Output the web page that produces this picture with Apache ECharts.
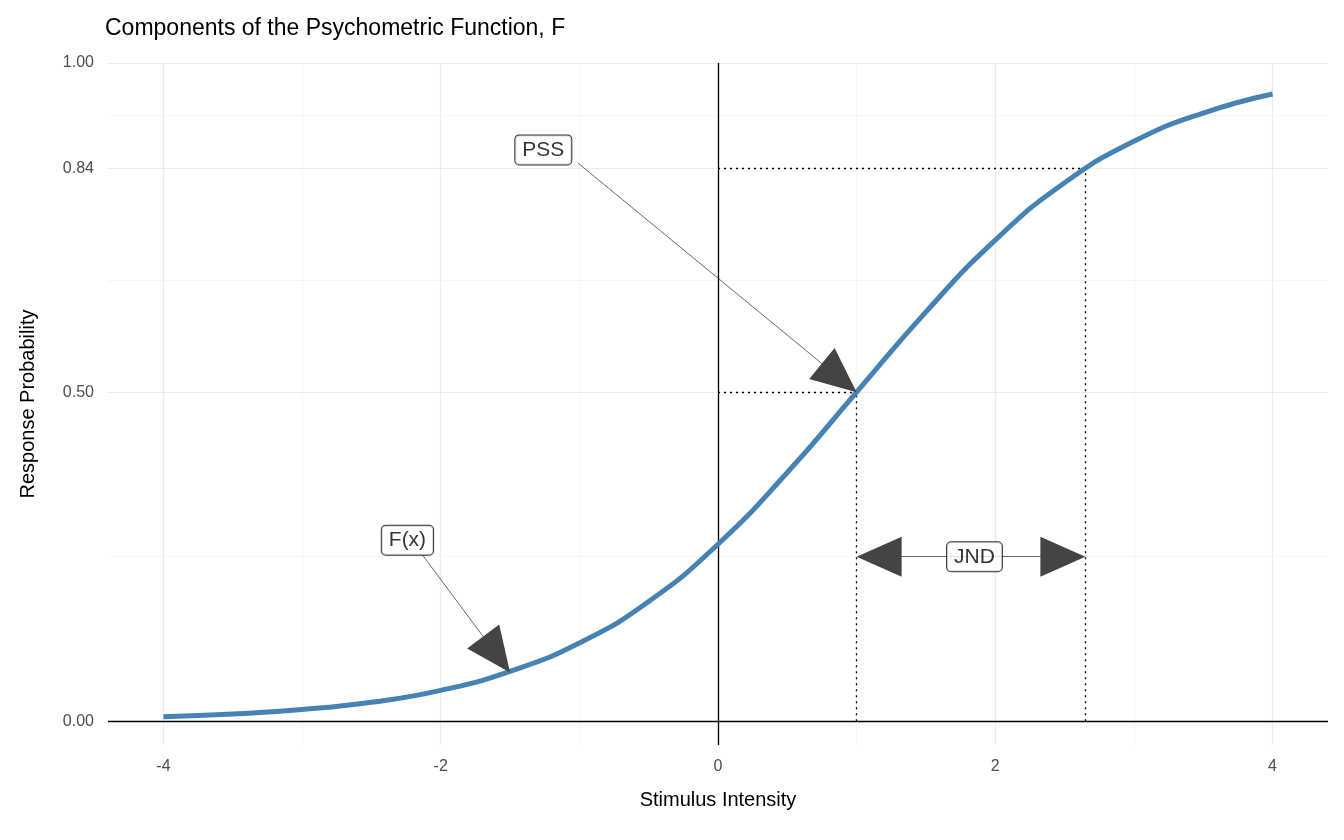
<!DOCTYPE html>
<html><head><meta charset="utf-8">
<script src="https://cdn.jsdelivr.net/npm/echarts@6/dist/echarts.min.js"></script>
<style>html,body{margin:0;padding:0;background:#fff}#c{width:1344px;height:840px}</style>
</head><body><div id="c"></div>
<script>
const xVals = [-4,-3.5,-3,-2.5,-2,-1.5,-1,-0.5,0,0.5,1,1.5,2,2.5,3,3.5,4];
const yVals = [0.007,0.011,0.018,0.029,0.047,0.076,0.119,0.182,0.269,0.378,0.5,0.622,0.731,0.818,0.881,0.924,0.953];
const xTicks = [-4,-2,0,2,4];
const yTicks = [0,0.5,0.84,1];
const xMinor = [-3,-1,1,3];
const yMinor = [0.25,0.67,0.92];
const pss = 1, jndUpper = 2.65;
const labels = [{name:'PSS', x:-1.26, y:0.868},{name:'F(x)', x:-2.24, y:0.275},{name:'JND', x:1.85, y:0.25}];

const chart = echarts.init(document.getElementById('c'));
const txt = '#4d4d4d';
const gridLines = [];
xTicks.forEach(v=>gridLines.push({xAxis:v, lineStyle:{color:'#ebebeb',width:1.2,type:'solid'}}));
xMinor.forEach(v=>gridLines.push({xAxis:v, lineStyle:{color:'#f2f2f2',width:0.8,type:'solid'}}));
yTicks.forEach(v=>gridLines.push({yAxis:v, lineStyle:{color:'#ebebeb',width:1.2,type:'solid'}}));
yMinor.forEach(v=>gridLines.push({yAxis:v, lineStyle:{color:'#f2f2f2',width:0.8,type:'solid'}}));
gridLines.push({yAxis:0, lineStyle:{color:'#000',width:1.3,type:'solid'}});
gridLines.push({xAxis:0, lineStyle:{color:'#000',width:1.3,type:'solid'}});
const dot = {color:'#000',width:1.3,type:[2,4]};
const dotted = [
  [{coord:[0,0.5]},{coord:[pss,0.5]}],
  [{coord:[pss,0]},{coord:[pss,0.5]}],
  [{coord:[0,0.84]},{coord:[jndUpper,0.84]}],
  [{coord:[jndUpper,0]},{coord:[jndUpper,0.84]}]
].map(p=>{p[0].lineStyle=dot;return p;});

const baseOption = {
  animation:false,
  title:{text:'Components of the Psychometric Function, F',left:100,top:12,textStyle:{fontSize:23,fontWeight:'normal',color:'#000',fontFamily:'Liberation Sans'}},
  grid:{left:108,right:16,top:63,bottom:95},
  xAxis:{type:'value',min:-4.4,max:4.4,name:'Stimulus Intensity',nameLocation:'middle',nameGap:45,
    nameTextStyle:{fontSize:20,color:'#000',fontFamily:'Liberation Sans'},
    axisLine:{show:false},axisTick:{show:false},splitLine:{show:false},
    axisLabel:{customValues:xTicks,color:txt,fontSize:16,margin:14,fontFamily:'Liberation Sans'}},
  yAxis:{type:'value',min:-0.036,max:1,name:'Response Probability',nameLocation:'middle',nameGap:70,
    nameTextStyle:{fontSize:20,color:'#000',fontFamily:'Liberation Sans'},
    axisLine:{show:false},axisTick:{show:false},splitLine:{show:false},
    axisLabel:{customValues:yTicks,color:txt,fontSize:16,margin:14,fontFamily:'Liberation Sans',formatter:v=>v.toFixed(2)}},
  series:[
    {type:'line',data:[],silent:true,z:1,markLine:{z:1,silent:true,symbol:'none',label:{show:false},data:gridLines.concat(dotted)}},
    {type:'line',data:xVals.map((x,i)=>[x,yVals[i]]),smooth:true,showSymbol:false,lineStyle:{color:'#4682b4',width:5},z:3},
    {type:'line',data:[],z:4},
    {type:'scatter',symbolSize:0,data:labels.map(l=>({name:l.name,value:[l.x,l.y]})),z:10,
      label:{show:true,position:'inside',formatter:'{b}',fontSize:21,color:'#000',fontFamily:'Liberation Sans',
        backgroundColor:'#fff',borderColor:'#000',borderWidth:1,borderRadius:4,padding:[4,7]}}
  ]
};
chart.setOption(baseOption);

// pull arrow end back so the triangle's tip (not its centre) sits on the target
const headLen = 45;
function arrow(from, to){
  const a = chart.convertToPixel({gridIndex:0}, from);
  const b = chart.convertToPixel({gridIndex:0}, to);
  const dx=b[0]-a[0], dy=b[1]-a[1], L=Math.hypot(dx,dy);
  const e = [b[0]-dx/L*headLen/2, b[1]-dy/L*headLen/2];
  const ed = chart.convertFromPixel({gridIndex:0}, e);
  return [{coord:from, lineStyle:{color:'#444',width:0.8,type:'solid'}},{coord:ed}];
}
const arrows = [
  arrow([labels[0].x+0.25,labels[0].y-0.02],[pss,0.5]),
  arrow([labels[1].x+0.1,labels[1].y-0.02],[-1.5,0.074]),
  arrow([1.85,0.25],[pss,0.25]),
  arrow([1.85,0.25],[jndUpper,0.25])
];
chart.setOption({series:[{},{},{markLine:{z:4,silent:true,symbol:['none','triangle'],symbolSize:[40,45],label:{show:false},
  itemStyle:{color:'#555'},data:arrows}},{}]});
</script></body></html>
